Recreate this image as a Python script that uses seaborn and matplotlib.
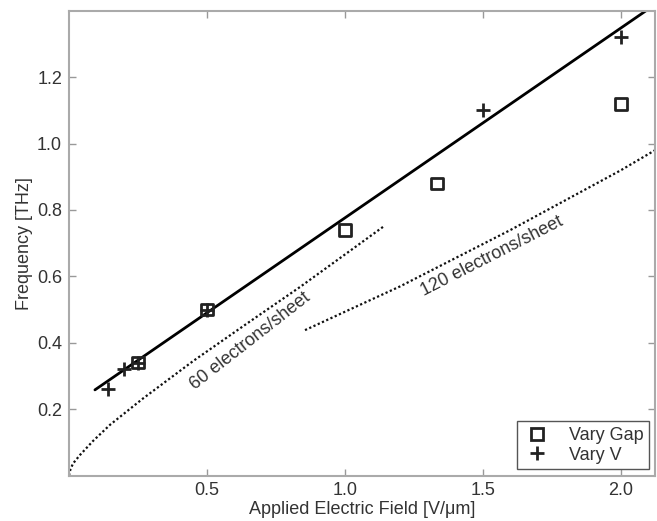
import matplotlib
matplotlib.use('Agg')
import matplotlib.pyplot as plt
from matplotlib.lines import Line2D
import seaborn as sns

# measured points
gap_x = [0.25, 0.5, 1.0, 1.333, 2.0]
gap_y = [0.34, 0.50, 0.74, 0.88, 1.12]
volt_x = [0.143, 0.2, 0.25, 0.5, 1.5, 2.0]
volt_y = [0.26, 0.32, 0.34, 0.50, 1.10, 1.32]

# linear fit line
fit_x = [0.094, 2.09]
fit_y = [0.258, 1.40]

# theory curves
n60_x = [0.0, 0.005, 0.0145, 0.04, 0.087, 0.149, 0.268, 0.45, 0.645, 0.837, 1.0, 1.141]
n60_y = [0.0, 0.018, 0.036, 0.062, 0.104, 0.153, 0.232, 0.345, 0.458, 0.568, 0.666, 0.751]
n120_x = [0.855, 1.2, 1.6, 2.0, 2.123]
n120_y = [0.438, 0.57, 0.74, 0.92, 0.98]

xticks = [0.5, 1.0, 1.5, 2.0]
yticks = [0.2, 0.4, 0.6, 0.8, 1.0, 1.2]

sns.set_style('ticks')
plt.rcParams['font.family'] = ['Liberation Sans', 'DejaVu Sans']

fig = plt.figure(figsize=(6.57, 5.21), dpi=100)
ax = fig.add_axes([0.105, 0.0873, 0.892, 0.892])

dots = (0, (1, 1.1))
sns.lineplot(x=fit_x, y=fit_y, ax=ax, color='black', linewidth=2, sort=False)
sns.lineplot(x=n60_x, y=n60_y, ax=ax, color='#111111', linewidth=1.6, linestyle=dots, sort=False)
sns.lineplot(x=n120_x, y=n120_y, ax=ax, color='#111111', linewidth=1.6, linestyle=dots, sort=False)

sns.scatterplot(x=gap_x, y=gap_y, ax=ax, marker='s', s=70, facecolor='none',
                edgecolor='#222222', linewidth=2, zorder=5)
sns.scatterplot(x=volt_x, y=volt_y, ax=ax, marker='+', s=110, color='#222222',
                linewidth=2, zorder=6)

ax.text(0.656, 0.405, '60 electrons/sheet', rotation=38, rotation_mode='anchor',
        ha='center', va='center', fontsize=13, color='#333333')
ax.text(1.533, 0.66, '120 electrons/sheet', rotation=27, rotation_mode='anchor',
        ha='center', va='center', fontsize=13, color='#333333')

ax.set_xlim(0, 2.123)
ax.set_ylim(0, 1.4)
ax.set_xticks(xticks)
ax.set_xticklabels(['%.1f' % v for v in xticks])
ax.set_yticks(yticks)
ax.set_yticklabels(['%.1f' % v for v in yticks])
ax.tick_params(direction='in', length=5, width=1, color='#999999',
               labelsize=13, labelcolor='#333333', top=True, right=True, pad=5)
for sp in ax.spines.values():
    sp.set_color('#aaaaaa')
    sp.set_linewidth(1.5)

ax.set_xlabel('Applied Electric Field [V/\u03bcm]', fontsize=13, color='#333333', labelpad=1)
ax.set_ylabel('Frequency [THz]', fontsize=13, color='#333333', labelpad=3)

handles = [
    Line2D([], [], marker='s', linestyle='', markersize=8, markerfacecolor='none',
           markeredgecolor='#222222', markeredgewidth=2),
    Line2D([], [], marker='+', linestyle='', markersize=10, color='#222222',
           markeredgewidth=2),
]
leg = ax.legend(handles, ['Vary Gap', 'Vary V'], loc='lower right',
                bbox_to_anchor=(0.99, 0.014), borderaxespad=0, fancybox=False,
                framealpha=1, fontsize=13, handlelength=1.6, handletextpad=1.0,
                borderpad=0.3, labelspacing=0.15)
leg.get_frame().set_edgecolor('#555555')
leg.get_frame().set_linewidth(1)
for t in leg.get_texts():
    t.set_color('#333333')

fig.savefig('out.png', dpi=100)
